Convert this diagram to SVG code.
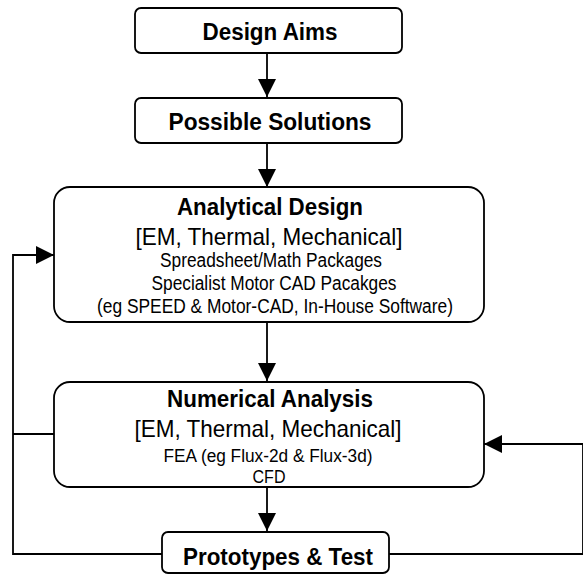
<svg xmlns="http://www.w3.org/2000/svg" width="583" height="575" viewBox="0 0 583 575">
<style>
.box{fill:#fff;stroke:#000;stroke-width:1.8}
.ln{fill:none;stroke:#000;stroke-width:1.8}
text{font-family:"Liberation Sans",Arial,sans-serif;fill:#000;text-anchor:middle}
.t{font-weight:bold;font-size:23px}
.s{font-size:24px}
.m{font-size:19.5px}
.n{font-size:17.5px}
</style>
<defs>
<marker id="ah" markerWidth="18" markerHeight="18" refX="18" refY="9" orient="auto" markerUnits="userSpaceOnUse">
<path d="M0,0 L18,9 L0,18 Z" fill="#000"/>
</marker>
</defs>
<g id="connectors">
<line class="ln" x1="267" y1="53" x2="267" y2="97" marker-end="url(#ah)"/>
<line class="ln" x1="267" y1="143" x2="267" y2="187" marker-end="url(#ah)"/>
<line class="ln" x1="267" y1="322" x2="267" y2="381" marker-end="url(#ah)"/>
<line class="ln" x1="267" y1="487" x2="267" y2="531" marker-end="url(#ah)"/>
<polyline class="ln" points="162,554 13,554 13,255 54,255" marker-end="url(#ah)"/>
<line class="ln" x1="13" y1="434" x2="54" y2="434"/>
<polyline class="ln" points="389,554 583,554 583,444 484,444" marker-end="url(#ah)"/>
</g>
<g id="design-aims">
<rect class="box" x="135" y="8" width="267" height="45" rx="6"/>
<text class="t" x="270" y="40" textLength="135" lengthAdjust="spacingAndGlyphs">Design Aims</text>
</g>
<g id="possible-solutions">
<rect class="box" x="135" y="98" width="267" height="45" rx="6"/>
<text class="t" x="270" y="130" textLength="203" lengthAdjust="spacingAndGlyphs">Possible Solutions</text>
</g>
<g id="analytical-design">
<rect class="box" x="54" y="187" width="430" height="135" rx="16"/>
<text class="t" x="270" y="215" textLength="186" lengthAdjust="spacingAndGlyphs">Analytical Design</text>
<text class="s" x="269" y="245" textLength="267" lengthAdjust="spacingAndGlyphs">[EM, Thermal, Mechanical]</text>
<text class="m" x="271" y="267" textLength="222" lengthAdjust="spacingAndGlyphs">Spreadsheet/Math Packages</text>
<text class="m" x="274" y="290" textLength="245" lengthAdjust="spacingAndGlyphs">Specialist Motor CAD Pacakges</text>
<text class="m" x="275" y="313" textLength="356" lengthAdjust="spacingAndGlyphs">(eg SPEED &amp; Motor-CAD, In-House Software)</text>
</g>
<g id="numerical-analysis">
<rect class="box" x="54" y="382" width="430" height="105" rx="16"/>
<text class="t" x="270" y="407" textLength="206" lengthAdjust="spacingAndGlyphs">Numerical Analysis</text>
<text class="s" x="268" y="437" textLength="267" lengthAdjust="spacingAndGlyphs">[EM, Thermal, Mechanical]</text>
<text class="n" x="268" y="462" textLength="209" lengthAdjust="spacingAndGlyphs">FEA (eg Flux-2d &amp; Flux-3d)</text>
<text class="n" x="269" y="483" textLength="33" lengthAdjust="spacingAndGlyphs">CFD</text>
</g>
<g id="prototypes-test">
<rect class="box" x="162" y="532" width="227" height="41" rx="6"/>
<text class="t" x="278" y="565" textLength="190" lengthAdjust="spacingAndGlyphs">Prototypes &amp; Test</text>
</g>
</svg>
